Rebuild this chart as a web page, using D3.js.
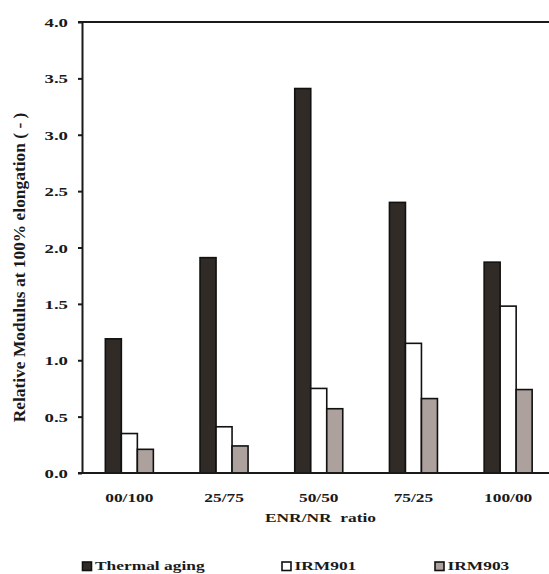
<!DOCTYPE html>
<html>
<head>
<meta charset="utf-8">
<script src="https://cdn.jsdelivr.net/npm/d3@7"></script>
<style>
  html, body { margin: 0; padding: 0; background: #fff; }
  svg { display: block; }
  text { font-family: "Liberation Serif", "Times New Roman", serif; font-weight: bold; fill: #1a1a1a; }
</style>
</head>
<body>
<svg id="chart" width="549" height="574"></svg>
<script>
const categories = ["00/100", "25/75", "50/50", "75/25", "100/00"];
const seriesNames = ["Thermal aging", "IRM901", "IRM903"];
const thermalAging = [1.19, 1.91, 3.41, 2.40, 1.87];
const irm901 = [0.35, 0.41, 0.75, 1.15, 1.48];
const irm903 = [0.21, 0.24, 0.57, 0.66, 0.74];
const yTicks = [0, 0.5, 1.0, 1.5, 2.0, 2.5, 3.0, 3.5, 4.0];
const xTitle = "ENR/NR  ratio";
const yTitle = "Relative Modulus at 100% elongation ( - )";

const seriesValues = [thermalAging, irm901, irm903];
const colors = ["#302b27", "#ffffff", "#aca19c"];

(function () {
const svg = d3.select("#chart");
const mLeft = 82, mRight = 555.5, mTop = 22, mBottom = 473;
const squash = "scale(1,0.77)";
const fs = 17.4;

const x0 = d3.scaleBand().domain(categories).range([mLeft, mRight])
  .paddingInner(0.493).paddingOuter(0.2465);
const x1 = d3.scaleBand().domain(seriesNames).range([0, x0.bandwidth()]);
const y = d3.scaleLinear().domain([0, 4]).range([mBottom, mTop]);

// frame top (right side of the frame lies outside the view)
svg.append("line").attr("x1", mLeft - 4).attr("x2", mRight).attr("y1", mTop).attr("y2", mTop)
  .attr("stroke", "#1a1a1a").attr("stroke-width", 2);

// bars
const rows = categories.map((c, i) => ({ cat: c, vals: seriesNames.map((s, j) => ({ s, j, v: seriesValues[j][i] })) }));
const g = svg.append("g").selectAll("g").data(rows).join("g")
  .attr("transform", d => `translate(${x0(d.cat)},0)`);
g.selectAll("rect").data(d => d.vals).join("rect")
  .attr("x", d => x1(d.s))
  .attr("y", d => y(d.v))
  .attr("width", x1.bandwidth())
  .attr("height", d => y(0) - y(d.v))
  .attr("fill", d => colors[d.j])
  .attr("stroke", "#111")
  .attr("stroke-width", 1.6);

// y axis
const yAxis = svg.append("g").attr("transform", `translate(${mLeft},0)`)
  .call(d3.axisLeft(y).tickValues(yTicks).tickFormat(d3.format(".1f")).tickSize(4).tickSizeOuter(0));
yAxis.attr("font-family", null).attr("font-size", null);
yAxis.select(".domain").attr("stroke", "#1a1a1a").attr("stroke-width", 2);
yAxis.selectAll(".tick line").attr("stroke", "#1a1a1a").attr("stroke-width", 2);
yAxis.selectAll(".tick text")
  .attr("x", -13).attr("dy", null)
  .attr("transform", `translate(0,4.6) scale(1.08,0.77)`)
  .style("font-size", fs + "px")
  .attr("fill", "#1a1a1a");

// x axis
const xAxis = svg.append("g").attr("transform", `translate(0,${mBottom})`)
  .call(d3.axisBottom(x0).tickSize(0).tickSizeOuter(0));
xAxis.attr("font-family", null).attr("font-size", null);
xAxis.select(".domain").attr("d", `M${mLeft - 4},0H${mRight}`).attr("stroke", "#1a1a1a").attr("stroke-width", 2);
xAxis.selectAll(".tick text")
  .attr("y", 0).attr("dy", null)
  .attr("transform", `translate(0,28.5) ${squash}`)
  .style("font-size", fs + "px")
  .attr("fill", "#1a1a1a");

// axis titles
svg.append("text")
  .attr("transform", `translate(320.5,521.5) ${squash}`)
  .attr("text-anchor", "middle").style("font-size", fs + "px")
  .style("white-space", "pre")
  .text(xTitle);
svg.append("text")
  .attr("transform", "translate(24.5,267.5) rotate(-90)")
  .attr("text-anchor", "middle").style("font-size", fs + "px")
  .text(yTitle);

// legend
const legendX = [82, 281.5, 434.5];
const leg = svg.append("g").selectAll("g").data(seriesNames).join("g")
  .attr("transform", (d, i) => `translate(${legendX[i]},561.5)`);
leg.append("rect").attr("x", 0.5).attr("y", 0.5).attr("width", 9).attr("height", 8.5)
  .attr("fill", (d, i) => colors[i]).attr("stroke", "#111").attr("stroke-width", 1.6);
leg.append("text")
  .attr("transform", `translate(13,8.3) ${squash}`)
  .style("font-size", fs + "px")
  .text(d => d);
})();
</script>
</body>
</html>
